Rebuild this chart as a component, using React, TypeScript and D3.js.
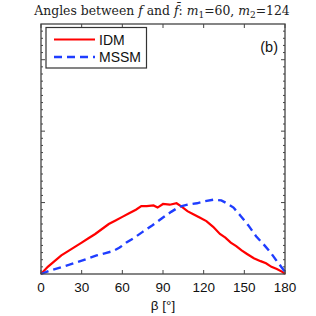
import React, { useEffect, useRef } from 'react';
import * as d3 from 'd3';

// beta in degrees, density values
const idmBeta = [0, 5, 10, 15, 20, 25, 30, 35, 40, 45, 50, 55, 60, 65, 70, 74, 78, 83, 86, 90, 95, 100, 104, 108, 112, 117, 122, 127, 132, 136, 140, 144, 148, 152, 157, 162, 166, 170, 174, 178, 180];
const idmVal = [0, 0.1, 0.18, 0.26, 0.32, 0.38, 0.44, 0.5, 0.56, 0.63, 0.7, 0.75, 0.8, 0.85, 0.9, 0.95, 0.95, 0.96, 0.93, 0.98, 0.97, 0.99, 0.94, 0.88, 0.84, 0.79, 0.74, 0.66, 0.56, 0.51, 0.44, 0.39, 0.33, 0.28, 0.22, 0.18, 0.15, 0.1, 0.07, 0.03, 0];
const mssmBeta = [0, 7, 14, 21, 29, 35, 41, 47, 53, 58, 63, 69, 75, 82, 90, 96, 102, 108, 115, 121, 127, 133, 137, 142, 147, 153, 159, 164, 169, 174, 180];
const mssmVal = [0, 0.05, 0.09, 0.13, 0.18, 0.22, 0.26, 0.29, 0.32, 0.37, 0.44, 0.51, 0.59, 0.68, 0.79, 0.87, 0.94, 0.97, 0.99, 1.02, 1.04, 1.03, 0.99, 0.93, 0.82, 0.68, 0.52, 0.42, 0.31, 0.18, 0.03];
const xTicks = [0, 30, 60, 90, 120, 150, 180];
const yMajor = [1, 2, 3];
const legendLabels = ['IDM', 'MSSM'];

const App: React.FC = () => {
  const ref = useRef<SVGSVGElement | null>(null);

  useEffect(() => {
    if (!ref.current) return;
    const svg = d3.select(ref.current);
    svg.selectAll('*').remove();

    const left = 41, right = 285, top = 24, bottom = 274;
    const x = d3.scaleLinear().domain([0, 180]).range([left, right]);
    const y = d3.scaleLinear().domain([0, 3.5]).range([bottom, top]);
    const axisColor = '#444';

    // title
    const title = svg.append('text')
      .attr('x', 162).attr('y', 14.5)
      .attr('text-anchor', 'middle')
      .style('font-family', '"DejaVu Serif", "Liberation Serif", serif')
      .style('font-size', '12.4px')
      .attr('fill', '#222');
    title.append('tspan').text('Angles between ');
    title.append('tspan').style('font-style', 'italic').text('f');
    title.append('tspan').text(' and ');
    title.append('tspan').style('font-style', 'italic').text('f\u0304');
    title.append('tspan').text(': ');
    title.append('tspan').style('font-style', 'italic').text('m');
    title.append('tspan').attr('font-size', '9px').attr('dy', 3).text('1');
    title.append('tspan').attr('dy', -3).text('=60, ');
    title.append('tspan').style('font-style', 'italic').text('m');
    title.append('tspan').attr('font-size', '9px').attr('dy', 3).text('2');
    title.append('tspan').attr('dy', -3).text('=124');

    // ticks inward on all sides
    const g = svg.append('g').attr('stroke', axisColor).attr('stroke-width', 1);
    xTicks.forEach(t => {
      g.append('line').attr('x1', x(t)).attr('x2', x(t)).attr('y1', bottom).attr('y2', bottom - 4);
      g.append('line').attr('x1', x(t)).attr('x2', x(t)).attr('y1', top).attr('y2', top + 4);
    });
    d3.range(1, 35).forEach(i => {
      const v = i / 10;
      const len = yMajor.includes(Math.round(v * 10) / 10) ? 4 : 2;
      g.append('line').attr('x1', left).attr('x2', left + len).attr('y1', y(v)).attr('y2', y(v));
      g.append('line').attr('x1', right).attr('x2', right - len).attr('y1', y(v)).attr('y2', y(v));
    });

    // curves
    const line = d3.line<[number, number]>().x(d => x(d[0])).y(d => y(d[1]));
    svg.append('path')
      .datum(idmBeta.map((b, i) => [b, idmVal[i]] as [number, number]))
      .attr('d', line).attr('fill', 'none')
      .attr('stroke', '#ff0000').attr('stroke-width', 2.2);
    svg.append('path')
      .datum(mssmBeta.map((b, i) => [b, mssmVal[i]] as [number, number]))
      .attr('d', line).attr('fill', 'none')
      .attr('stroke', '#1f3dff').attr('stroke-width', 2.4)
      .attr('stroke-dasharray', '8,5');

    // frame
    svg.append('rect')
      .attr('x', left).attr('y', top).attr('width', right - left).attr('height', bottom - top)
      .attr('fill', 'none').attr('stroke', axisColor).attr('stroke-width', 1.3);

    // x tick labels
    svg.selectAll('.xl').data(xTicks).enter().append('text')
      .attr('x', d => x(d)).attr('y', 292)
      .attr('text-anchor', 'middle')
      .style('font-family', '"Liberation Sans", Arial, sans-serif')
      .style('font-size', '13.5px')
      .attr('fill', '#111')
      .text(d => d);
    svg.append('text')
      .attr('x', (left + right) / 2).attr('y', 310)
      .attr('text-anchor', 'middle')
      .style('font-family', '"Liberation Sans", Arial, sans-serif')
      .style('font-size', '13.5px')
      .attr('fill', '#111')
      .text('\u03b2 [\u00b0]');

    // legend
    const lg = svg.append('g');
    lg.append('rect').attr('x', 46).attr('y', 27.5).attr('width', 100.5).attr('height', 40.5)
      .attr('fill', 'white').attr('stroke', '#333').attr('stroke-width', 1.2);
    const colors = ['#ff0000', '#1f3dff'];
    legendLabels.forEach((lab, i) => {
      const ly = 39.5 + i * 17.5;
      lg.append('line').attr('x1', 54).attr('x2', 95).attr('y1', ly).attr('y2', ly)
        .attr('stroke', colors[i]).attr('stroke-width', i === 0 ? 2.2 : 2.4)
        .attr('stroke-dasharray', i === 0 ? null : '8,5');
      lg.append('text').attr('x', 99).attr('y', ly + 5)
        .style('font-family', '"Liberation Sans", Arial, sans-serif')
        .style('font-size', '14px')
        .attr('fill', '#111')
        .text(lab);
    });

    svg.append('text').attr('x', 278).attr('y', 52)
      .attr('text-anchor', 'end')
      .style('font-family', '"Liberation Sans", Arial, sans-serif')
      .style('font-size', '14.5px')
      .attr('fill', '#111')
      .text('(b)');
  }, []);

  return (
    <svg ref={ref} width={316} height={316}
      style={{ position: 'absolute', left: 0, top: 0, background: 'white' }} />
  );
};

export default App;
